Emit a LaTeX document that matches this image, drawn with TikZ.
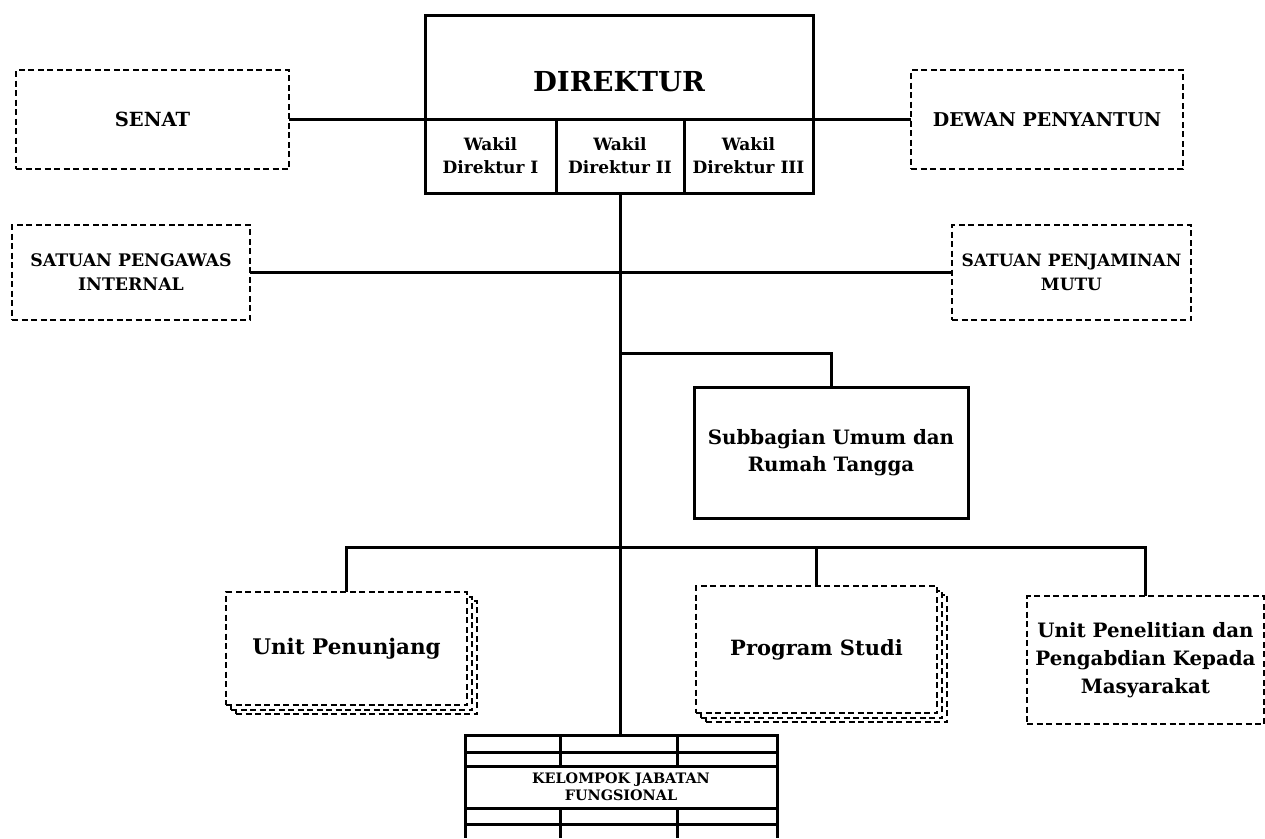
\documentclass[tikz,border=0pt]{standalone}
\usepackage{fontspec}
\setmainfont{DejaVu Serif}
\usetikzlibrary{positioning}
\begin{document}
\begin{tikzpicture}[x=1pt,y=-1pt]
    \tikzset{every node/.style={font=\bfseries, align=center, inner sep=0pt, outer sep=0pt},
        solidbox/.style={draw, line width=3pt, rectangle},
        dashbox/.style={draw, line width=1.2pt, dash pattern=on 6pt off 3.5pt, fill=white},
        stackbox/.style={dashbox,
            preaction={draw, fill=white, dash pattern=on 6pt off 3.5pt, transform canvas={shift={(10pt,-9pt)}}},
            preaction={draw, fill=white, dash pattern=on 6pt off 3.5pt, transform canvas={shift={(5pt,-5pt)}}}},
        wakil/.style={solidbox, minimum height=74pt, font=\bfseries\fontsize{17}{23}\selectfont},
        link/.style={line width=3pt}}
    \path[use as bounding box] (0,0) rectangle (1265,838);
    % pimpinan
    \node[solidbox, minimum width=388pt, minimum height=104pt] (dir) at (619,67) {};
    \node[font=\bfseries\fontsize{27.5}{30}\selectfont] (dirtxt) at (619,82) {DIREKTUR};
    \node[wakil, minimum width=131pt, anchor=north west] (wk1) at (dir.south west) {Wakil\\Direktur I};
    \node[wakil, minimum width=128pt, right=0pt of wk1] (wk2) {Wakil\\Direktur II};
    \node[wakil, minimum width=129pt, right=0pt of wk2] (wk3) {Wakil\\Direktur III};
    % samping
    \node[dashbox, minimum width=273pt, minimum height=99pt, font=\bfseries\fontsize{19.5}{23}\selectfont] (senat) at (152.5,119.5) {SENAT};
    \node[dashbox, minimum width=272pt, minimum height=99pt, font=\bfseries\fontsize{19}{23}\selectfont] (dewan) at (1047,119.5) {DEWAN PENYANTUN};
    \node[dashbox, minimum width=238pt, minimum height=95pt, font=\bfseries\fontsize{17.3}{24}\selectfont] (spi) at (131,272.5) {SATUAN PENGAWAS\\INTERNAL};
    \node[dashbox, minimum width=239pt, minimum height=95pt, font=\bfseries\fontsize{17}{24}\selectfont] (spm) at (1071.5,272.5) {SATUAN PENJAMINAN\\MUTU};
    % bawah
    \node[solidbox, minimum width=274pt, minimum height=131pt, font=\bfseries\fontsize{19.8}{27}\selectfont] (sub) at (831,452.5) {Subbagian Umum dan\\Rumah Tangga};
    \node[stackbox, minimum width=241pt, minimum height=113pt, font=\bfseries\fontsize{21.5}{27}\selectfont] (up) at (346.5,648.5) {Unit Penunjang};
    \node[stackbox, minimum width=241pt, minimum height=127pt, font=\bfseries\fontsize{21}{27}\selectfont] (ps) at (816.5,649.5) {Program Studi};
    \node[dashbox, minimum width=237pt, minimum height=128pt, font=\bfseries\fontsize{19.8}{28}\selectfont] (upp) at (1145.5,660) {Unit Penelitian dan\\Pengabdian Kepada\\Masyarakat};
    \node[solidbox, minimum width=312pt, minimum height=42pt, font=\bfseries\fontsize{14.4}{17}\selectfont] (kjf) at (621,787) {KELOMPOK JABATAN\\FUNGSIONAL};
    % tabel jabatan fungsional
    \draw[link] (465,766) -- (465,735) -- (777,735) -- (777,766);
    \draw[link] (465,752) -- (777,752);
    \draw[link] (465,824) -- (777,824);
    \draw[link] (465,808) -- (465,838);
    \draw[link] (777,808) -- (777,838);
    \foreach \cx in {560,677} {
        \draw[link] (\cx,735) -- (\cx,766);
        \draw[link] (\cx,808) -- (\cx,838);
    }
    \coordinate (kjftop) at (620,735);
    \coordinate (subfork) at (620,353);
    \coordinate (bus) at (620,547);
    % garis
    \draw[link] (senat.east) -- (senat.east -| dir.west);
    \draw[link] (dewan.west) -- (dewan.west -| dir.east);
    \draw[link] (wk2.south) -- (kjftop);
    \draw[link] (spi) -- (spm);
    \draw[link] (subfork) -| (sub.north);
    \draw[link] (up.north) |- (bus) -| (upp.north);
    \draw[link] (ps.north) -- (ps.north |- bus);
\end{tikzpicture}
\end{document}
